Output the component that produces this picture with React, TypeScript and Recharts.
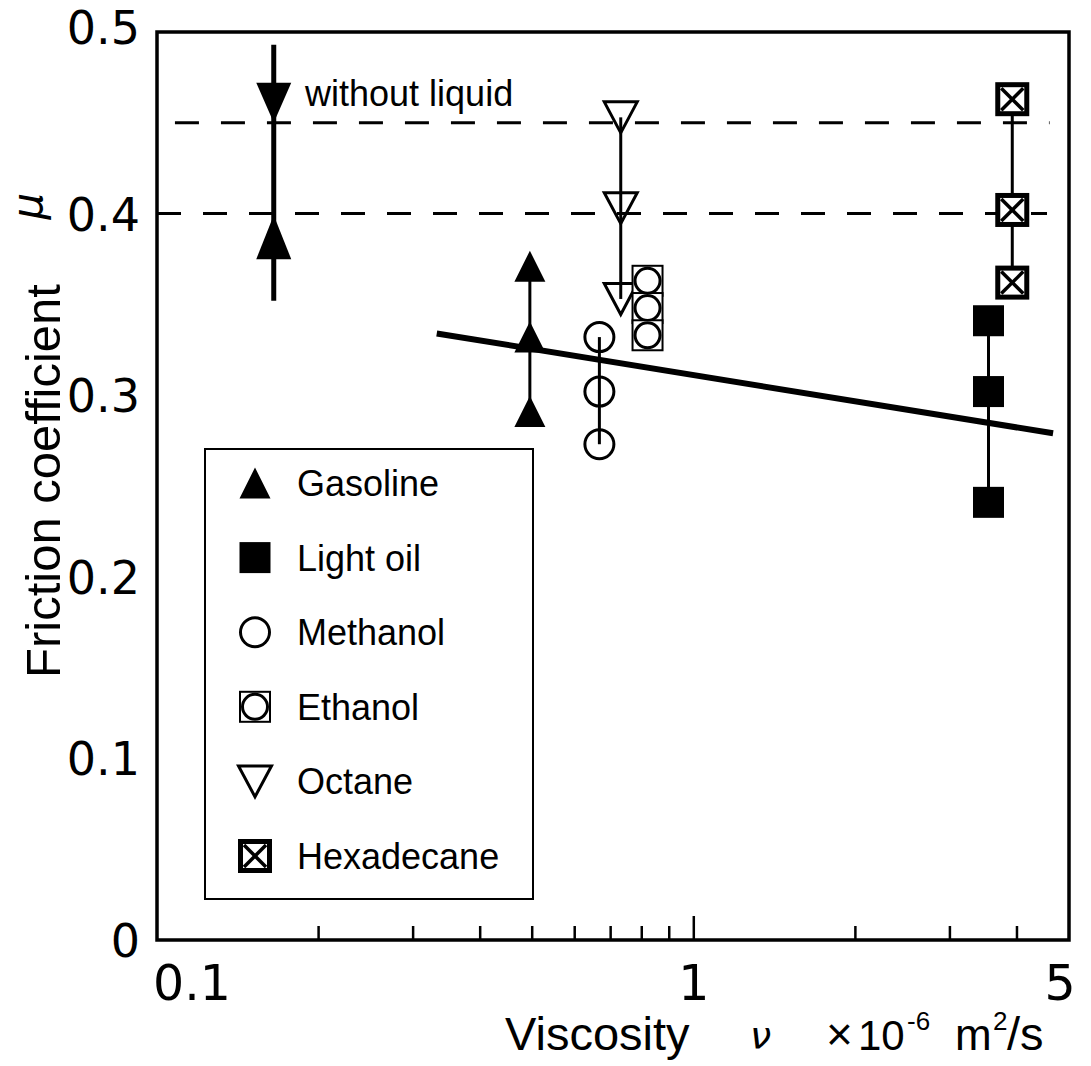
import React from 'react';
import {
  ComposedChart,
  Scatter,
  XAxis,
  YAxis,
  ReferenceLine,
  ReferenceArea,
  ReferenceDot,
  Legend,
  Label,
} from 'recharts';

// ---------- data ----------
const withoutLiquidDown = [{ x: 0.165, y: 0.461 }];
const withoutLiquidUp = [{ x: 0.165, y: 0.387 }];
const withoutLiquidRange = [
  { x: 0.165, y: 0.352 },
  { x: 0.165, y: 0.493 },
];
const gasoline = [
  { x: 0.495, y: 0.371 },
  { x: 0.495, y: 0.332 },
  { x: 0.495, y: 0.291 },
];
const methanol = [
  { x: 0.667, y: 0.332 },
  { x: 0.667, y: 0.302 },
  { x: 0.667, y: 0.273 },
];
const octane = [
  { x: 0.731, y: 0.453 },
  { x: 0.731, y: 0.403 },
  { x: 0.731, y: 0.353 },
];
const ethanol = [
  { x: 0.82, y: 0.363 },
  { x: 0.82, y: 0.348 },
  { x: 0.82, y: 0.333 },
];
const lightOil = [
  { x: 3.54, y: 0.341 },
  { x: 3.54, y: 0.302 },
  { x: 3.54, y: 0.241 },
];
const hexadecane = [
  { x: 3.92, y: 0.463 },
  { x: 3.92, y: 0.402 },
  { x: 3.92, y: 0.362 },
];
const fitLine = [
  { x: 0.332, y: 0.334 },
  { x: 4.67, y: 0.279 },
];
const dryUpper = [
  { x: 0.108, y: 0.45 },
  { x: 4.6, y: 0.45 },
];
const dryLower = [
  { x: 0.1, y: 0.4 },
  { x: 4.55, y: 0.4 },
];
const withoutLiquidLabelPos = { x: 0.1847, y: 0.4664 };

const xTicks = [0.1, 0.2, 0.3, 0.4, 0.5, 0.6, 0.7, 0.8, 0.9, 1, 2, 3, 4, 5];
const xTickLabels: Record<string, string> = { '0.1': '0.1', '1': '1', '5': '5' };
const yTicks = [0, 0.1, 0.2, 0.3, 0.4, 0.5];
const yTickLabels = ['0', '0.1', '0.2', '0.3', '0.4', '0.5'];

const legendItems: { name: string; kind: string }[] = [
  { name: 'Gasoline', kind: 'triUp' },
  { name: 'Light oil', kind: 'square' },
  { name: 'Methanol', kind: 'circle' },
  { name: 'Ethanol', kind: 'ethanol' },
  { name: 'Octane', kind: 'triOpen' },
  { name: 'Hexadecane', kind: 'hexa' },
];

// ---------- styles ----------
const SANS = '"Liberation Sans", Arial, Helvetica, sans-serif';
const WIDE = '"DejaVu Sans", sans-serif';

function Marker({ kind, cx, cy }: { kind: string; cx: number; cy: number }) {
  if (cx == null || cy == null || isNaN(cx) || isNaN(cy)) return <g />;
  switch (kind) {
    case 'triUp': {
      const w = 31, h = 31;
      return (
        <polygon
          points={`${cx - w / 2},${cy + h / 2} ${cx + w / 2},${cy + h / 2} ${cx},${cy - h / 2}`}
          fill="#000"
        />
      );
    }
    case 'arrowUp': {
      const w = 35, h = 44;
      return (
        <polygon
          points={`${cx - w / 2},${cy + h / 2} ${cx + w / 2},${cy + h / 2} ${cx},${cy - h / 2}`}
          fill="#000"
        />
      );
    }
    case 'arrowDown': {
      const w = 35, h = 40;
      return (
        <polygon
          points={`${cx - w / 2},${cy - h / 2} ${cx + w / 2},${cy - h / 2} ${cx},${cy + h / 2}`}
          fill="#000"
        />
      );
    }
    case 'triOpen': {
      const w = 33, h = 31;
      return (
        <polygon
          points={`${cx - w / 2},${cy - h / 2} ${cx + w / 2},${cy - h / 2} ${cx},${cy + h / 2}`}
          fill="none"
          stroke="#000"
          strokeWidth={3}
          strokeLinejoin="miter"
        />
      );
    }
    case 'square': {
      const s = 31;
      return <rect x={cx - s / 2} y={cy - s / 2} width={s} height={s} fill="#000" />;
    }
    case 'circle': {
      return <circle cx={cx} cy={cy} r={14.5} fill="none" stroke="#000" strokeWidth={3} />;
    }
    case 'ethanol': {
      const s = 30;
      return (
        <g>
          <rect x={cx - s / 2} y={cy - s / 2} width={s} height={s} fill="#fff" stroke="#000" strokeWidth={2} />
          <circle cx={cx} cy={cy} r={12.5} fill="none" stroke="#000" strokeWidth={3} />
        </g>
      );
    }
    case 'hexa': {
      const s = 29;
      const d = s / 2 - 3.5;
      return (
        <g>
          <rect x={cx - s / 2} y={cy - s / 2} width={s} height={s} fill="#fff" stroke="#000" strokeWidth={5} />
          <line x1={cx - d} y1={cy - d} x2={cx + d} y2={cy + d} stroke="#000" strokeWidth={3.5} />
          <line x1={cx + d} y1={cy - d} x2={cx - d} y2={cy + d} stroke="#000" strokeWidth={3.5} />
        </g>
      );
    }
    default:
      return <g />;
  }
}

const shapeOf = (kind: string) => (p: any) => <Marker kind={kind} cx={p.cx} cy={p.cy} />;

const XTick = (props: any) => {
  const { x, y, payload } = props;
  const v = payload.value;
  const label = xTickLabels[String(v)];
  const isEnd = v === 0.1 || v === 5;
  const len = v === 1 ? 24 : 14;
  let dx = 0;
  if (v === 0.1) dx = 35;
  if (v === 5) dx = -9;
  return (
    <g>
      {!isEnd && <line x1={x} x2={x} y1={y} y2={y - len} stroke="#000" strokeWidth={2.5} />}
      {label && (
        <text x={x + dx} y={y + 60} textAnchor="middle" fontFamily={WIDE} fontSize={49} fill="#000">
          {label}
        </text>
      )}
    </g>
  );
};

const YTick = (props: any) => {
  const { x, y, payload } = props;
  const idx = yTicks.indexOf(payload.value);
  const dy = payload.value === 0.5 ? -5 : 0;
  return (
    <text x={x - 17} y={y + 17 + dy} textAnchor="end" fontFamily={WIDE} fontSize={46} fill="#000">
      {yTickLabels[idx]}
    </text>
  );
};

const LegendBox = () => (
  <div
    style={{
      width: 330,
      height: 452,
      border: '2.5px solid #000',
      boxSizing: 'border-box',
      background: '#fff',
    }}
  >
    <svg width={326} height={448} style={{ display: 'block' }}>
      {legendItems.map((it, i) => {
        const cy = 33 + i * 74.6;
        return (
          <g key={it.name}>
            <Marker kind={it.kind} cx={49} cy={cy} />
            <text x={91} y={cy + 13} fontFamily={SANS} fontSize={36} fill="#000">
              {it.name}
            </text>
          </g>
        );
      })}
    </svg>
  </div>
);

const YLabel = () => (
  <g>
    <text
      x={60}
      y={481}
      transform="rotate(-90 60 481)"
      textAnchor="middle"
      fontFamily={SANS}
      fontSize={49}
      fill="#000"
    >
      Friction coefficient
    </text>
    <text
      x={42}
      y={206}
      transform="rotate(-90 42 206)"
      textAnchor="middle"
      fontFamily={WIDE}
      fontStyle="italic"
      fontSize={42}
      fill="#000"
    >
      μ
    </text>
  </g>
);

const XLabel = () => (
  <g fontFamily={SANS} fill="#000">
    <text x={505} y={1050} fontSize={47}>Viscosity</text>
    <text x={750} y={1048} fontSize={38} fontStyle="italic" fontFamily={WIDE}>ν</text>
    <text x={826} y={1050} fontSize={46}>×</text>
    <text x={858} y={1050} fontSize={42}>10</text>
    <text x={907} y={1030} fontSize={26}>-6</text>
    <text x={955} y={1050} fontSize={44}>m</text>
    <text x={993} y={1030} fontSize={26}>2</text>
    <text x={1007} y={1050} fontSize={47}>/s</text>
  </g>
);

export default function App() {
  return (
    <div style={{ position: 'absolute', left: 0, top: 0, background: '#fff' }}>
      <ComposedChart
        width={1091}
        height={1066}
        margin={{ top: 32, right: 22, left: 0, bottom: 0 }}
      >
        <XAxis
          dataKey="x"
          type="number"
          scale="log"
          domain={[0.1, 5]}
          ticks={xTicks}
          interval={0}
          allowDataOverflow
          height={126}
          axisLine={false}
          tickLine={false}
          tickSize={0}
          tickMargin={0}
          tick={<XTick />}
        >
          <Label content={<XLabel />} />
        </XAxis>
        <YAxis
          dataKey="y"
          type="number"
          domain={[0, 0.5]}
          ticks={yTicks}
          interval={0}
          width={157}
          axisLine={false}
          tickLine={false}
          tickSize={0}
          tickMargin={0}
          tick={<YTick />}
        >
          <Label content={<YLabel />} />
        </YAxis>
        <ReferenceArea x1={0.1} x2={5} y1={0} y2={0.5} fill="none" stroke="#000" strokeWidth={3.5} />
        <ReferenceLine segment={dryUpper} stroke="#000" strokeWidth={3} strokeDasharray="24 22" />
        <ReferenceLine segment={dryLower} stroke="#000" strokeWidth={3} strokeDasharray="24 22" />
        <ReferenceLine segment={withoutLiquidRange} stroke="#000" strokeWidth={5} />
        <ReferenceDot
          x={withoutLiquidLabelPos.x}
          y={withoutLiquidLabelPos.y}
          r={0}
          fill="none"
          stroke="none"
          label={{ value: 'without liquid', position: 'right', fontSize: 36, fontFamily: SANS, fill: '#000' }}
        />
        <Scatter data={fitLine} line={{ stroke: '#000', strokeWidth: 6 }} lineType="joint" shape={shapeOf('none')} isAnimationActive={false} />
        <Scatter data={withoutLiquidDown} shape={shapeOf('arrowDown')} isAnimationActive={false} />
        <Scatter data={withoutLiquidUp} shape={shapeOf('arrowUp')} isAnimationActive={false} />
        <Scatter data={gasoline} line={{ stroke: '#000', strokeWidth: 3 }} lineType="joint" shape={shapeOf('triUp')} isAnimationActive={false} />
        <Scatter data={methanol} line={{ stroke: '#000', strokeWidth: 3 }} lineType="joint" shape={shapeOf('circle')} isAnimationActive={false} />
        <Scatter data={octane} line={{ stroke: '#000', strokeWidth: 3 }} lineType="joint" shape={shapeOf('triOpen')} isAnimationActive={false} />
        <Scatter data={ethanol} shape={shapeOf('ethanol')} isAnimationActive={false} />
        <Scatter data={lightOil} line={{ stroke: '#000', strokeWidth: 3 }} lineType="joint" shape={shapeOf('square')} isAnimationActive={false} />
        <Scatter data={hexadecane} line={{ stroke: '#000', strokeWidth: 3 }} lineType="joint" shape={shapeOf('hexa')} isAnimationActive={false} />
        <Legend
          layout="vertical"
          align="center"
          verticalAlign="middle"
          wrapperStyle={{ position: 'absolute', left: 204, top: 448, width: 330, height: 452 }}
          content={<LegendBox />}
        />
      </ComposedChart>
    </div>
  );
}
